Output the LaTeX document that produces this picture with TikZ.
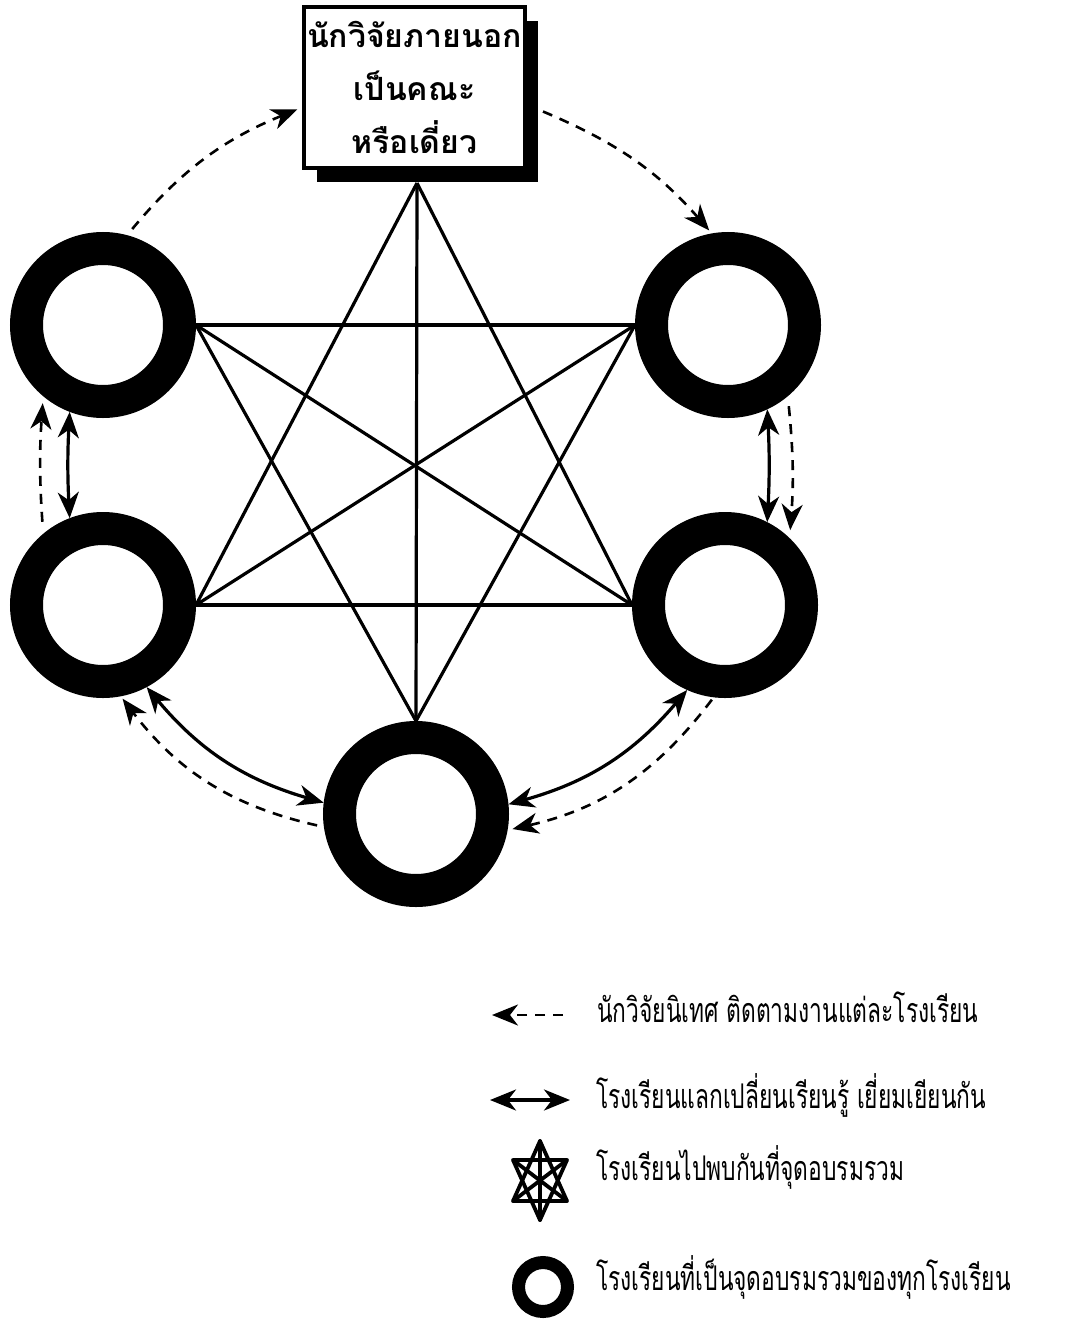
\documentclass[tikz,border=0pt]{standalone}
\usepackage{fontspec}
\newfontfamily\thai[Script=Thai]{Loma}
\newfontfamily\thainarrow[Script=Thai,FakeStretch=0.67]{Loma}
\usetikzlibrary{arrows.meta,shadows}
\begin{document}
\begin{tikzpicture}[x=1pt,y=-1pt,
  ring/.style={circle,draw=black,line width=33pt,minimum size=153pt,inner sep=0pt},
  starline/.style={line width=3.2pt},
  dasharrow/.style={line width=2.6pt,dash pattern=on 10pt off 8pt,-{Stealth[length=26pt,width=21pt,inset=8pt]}},
  duo/.style={line width=3.2pt,{Stealth[length=26pt,width=21pt,inset=8pt]}-{Stealth[length=26pt,width=21pt,inset=8pt]}},
  titlebox/.style={rectangle,draw=black,line width=4pt,fill=white,minimum width=221pt,minimum height=161pt,inner sep=0pt,align=center,
    font=\thai\bfseries\fontsize{32}{53}\selectfont,
    drop shadow={shadow xshift=13pt,shadow yshift=-14pt,fill=black,opacity=1}},
  legtext/.style={anchor=base west,inner sep=0pt,font=\thainarrow\fontsize{34}{38}\selectfont}
]
\useasboundingbox (0,0) rectangle (1070,1325);

% title box
\node[titlebox] (box) at (414.5,87.5) {นักวิจัยภายนอก\\เป็นคณะ\\หรือเดี่ยว};

% rings
\node[ring] (TL) at (103,325) {};
\node[ring] (TR) at (728,325) {};
\node[ring] (LM) at (103,605) {};
\node[ring] (RM) at (725,605) {};
\node[ring] (B)  at (416,814) {};
\coordinate (apex) at (417,183);

% star lines
\draw[starline] (apex) -- (LM.east);
\draw[starline] (apex) -- (RM.west);
\draw[starline] (apex) -- (B.north);
\draw[starline] (LM.east) -- (RM.west);
\draw[starline] (TL.east) -- (TR.west);
\draw[starline] (TL.east) -- (B.north);
\draw[starline] (TR.west) -- (B.north);
\draw[starline] (TL.east) -- (RM.west);
\draw[starline] (TR.west) -- (LM.east);

% dashed arrows (researcher)
\draw[dasharrow,shorten <=8pt,shorten >=5pt] (TL.75) to[bend left=14] ([yshift=-20pt]box.west);
\draw[dasharrow,shorten >=4pt] ([xshift=16pt,yshift=-24pt]box.east) to[bend left=13] (TR.100);
\draw[dasharrow,shorten <=12pt,shorten >=7pt] (LM.130) to[bend left=4] (TL.230);
\draw[dasharrow,shorten <=10pt,shorten >=8pt] (TR.310) to[bend left=5] (RM.46);
\draw[dasharrow,shorten <=7pt,shorten >=3pt] (B.188) to[bend left=20] (LM.281);
\draw[dasharrow,shorten <=3pt,shorten >=5pt] (RM.263) to[bend left=20] (B.350);

% solid double arrows (school exchange)
\draw[duo] (LM.111) to[bend left=3] (TL.249);
\draw[duo] (TR.295) to[bend left=3] (RM.63);
\draw[duo] (LM.298) to[bend right=17] (B.173);
\draw[duo] (B.6) to[bend right=17] (RM.246);

% legend
\coordinate (l1a) at (492,1015);
\coordinate (l1b) at (563,1015);
\draw[dasharrow] (l1b) -- (l1a);
\node[legtext] (t1) at (597,1022) {นักวิจัยนิเทศ ติดตามงานแต่ละโรงเรียน};

\coordinate (l2a) at (490,1100);
\coordinate (l2b) at (570,1100);
\draw[duo] (l2a) -- (l2b);
\node[legtext] (t2) at (596,1108) {โรงเรียนแลกเปลี่ยนเรียนรู้ เยี่ยมเยียนกัน};

\begin{scope}[line width=3.8pt,line join=round,line cap=round]
  \coordinate (sT) at (540,1141);
  \coordinate (sB) at (540,1220);
  \coordinate (sUL) at (513,1160);
  \coordinate (sUR) at (567,1160);
  \coordinate (sLL) at (513,1201);
  \coordinate (sLR) at (567,1201);
  \draw (sT) -- (sLL) -- (sLR) -- cycle;
  \draw (sB) -- (sUL) -- (sUR) -- cycle;
  \draw (sT) -- (sB);
  \draw (sUL) -- (sLR);
  \draw (sUR) -- (sLL);
\end{scope}
\node[legtext] (t3) at (596,1180) {โรงเรียนไปพบกันที่จุดอบรมรวม};

\node[ring,line width=13pt,minimum size=49pt] (lr) at (543,1287) {};
\node[legtext] (t4) at (596,1290) {โรงเรียนที่เป็นจุดอบรมรวมของทุกโรงเรียน};
\end{tikzpicture}
\end{document}
